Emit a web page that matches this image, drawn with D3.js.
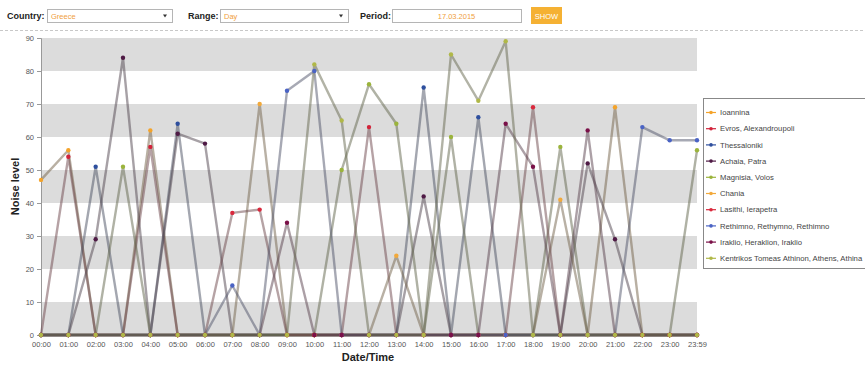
<!DOCTYPE html>
<html>
<head>
<meta charset="utf-8">
<script src="https://cdn.jsdelivr.net/npm/d3@7"></script>
<style>
  html, body { margin: 0; padding: 0; background: #fff; }
  svg { display: block; font-family: Arial, "Liberation Sans", sans-serif; }
</style>
</head>
<body>
<svg id="chart" width="865" height="367"></svg>
<script>
// Hourly time stamps of the selected day
const times = ["00:00","01:00","02:00","03:00","04:00","05:00","06:00","07:00","08:00","09:00",
  "10:00","11:00","12:00","13:00","14:00","15:00","16:00","17:00","18:00","19:00",
  "20:00","21:00","22:00","23:00","23:59"];

// Measuring stations (legend order)
const stations = ["Ioannina","Evros, Alexandroupoli","Thessaloniki","Achaia, Patra","Magnisia, Volos",
  "Chania","Lasithi, Ierapetra","Rethimno, Rethymno, Rethimno","Iraklio, Heraklion, Iraklio",
  "Kentrikos Tomeas Athinon, Athens, Athina"];

const stationColors = ["#f4a32a","#d2233a","#2e4f9e","#4f1a45","#9bb43c",
  "#f2a93b","#d9283c","#4a63c4","#7a1048","#b0b848"];

// Noise level per station, one value per time stamp
const ioannina     = [47,56,0,0,62,0,0,0,0,0,0,0,0,0,0,0,0,0,0,0,0,69,0,0,0];
const evros        = [0,54,0,0,57,0,0,0,0,0,0,0,63,0,0,0,0,0,0,0,0,0,0,0,0];
const thessaloniki = [0,0,51,0,0,64,0,0,0,0,0,0,0,0,75,0,66,0,0,0,0,0,0,0,0];
const achaia       = [0,0,29,84,0,61,58,0,0,0,0,0,0,0,42,0,0,0,0,0,52,29,0,0,0];
const magnisia     = [0,0,0,51,0,0,0,0,0,0,0,50,76,64,0,60,0,0,0,57,0,0,0,0,56];
const chania       = [0,0,0,0,0,0,0,0,70,0,0,0,0,24,0,0,0,0,0,41,0,0,0,0,0];
const lasithi      = [0,0,0,0,0,0,0,37,38,0,0,0,0,0,0,0,0,0,69,0,0,0,0,0,0];
const rethimno     = [0,0,0,0,0,0,0,15,0,74,80,0,0,0,0,0,0,0,0,0,0,0,63,59,59];
const iraklio      = [0,0,0,0,0,0,0,0,0,34,0,0,0,0,0,0,0,64,51,0,62,0,0,0,0];
const kentrikos    = [0,0,0,0,0,0,0,0,0,0,82,65,0,0,0,85,71,89,0,0,0,0,0,0,0];

const yTicks = [0,10,20,30,40,50,60,70,80,90];

const seriesValues = [ioannina, evros, thessaloniki, achaia, magnisia,
  chania, lasithi, rethimno, iraklio, kentrikos];
const series = stations.map((name, i) => ({
  name, color: stationColors[i],
  points: times.map((t, j) => ({ t, v: seriesValues[i][j] }))
}));

const svg = d3.select("#chart");
const plotLeft = 41, plotRight = 697, plotTop = 38, plotBottom = 335;

const x = d3.scalePoint().domain(times).range([plotLeft, plotRight]).padding(0);
const y = d3.scaleLinear().domain([0, 90]).range([plotBottom, plotTop]);

// ---- filter bar ----
const bar = svg.append("g");
const label = (tx, lx) => bar.append("text").attr("x", lx).attr("y", 19)
  .attr("font-size", 9).attr("font-weight", "bold").attr("fill", "#222").text(tx);
const box = (x0, x1, val, centered, arrow) => {
  bar.append("rect").attr("x", x0 + 0.5).attr("y", 9.5).attr("width", x1 - x0).attr("height", 13)
    .attr("fill", "#fff").attr("stroke", "#b5b5b5");
  bar.append("text").attr("x", centered ? (x0 + x1) / 2 : x0 + 4).attr("y", 19)
    .attr("text-anchor", centered ? "middle" : "start")
    .attr("font-size", 7.5).attr("fill", "#f0a040").text(val);
  if (arrow) bar.append("path")
    .attr("d", `M${x1 - 9},14.5 L${x1 - 5},14.5 L${x1 - 7},17.5 Z`).attr("fill", "#333");
};
label("Country:", 7);  box(47, 172, "Greece", false, true);
label("Range:", 188);  box(220, 348, "Day", false, true);
label("Period:", 360); box(392, 521, "17.03.2015", true, false);
bar.append("rect").attr("x", 531).attr("y", 7).attr("width", 31).attr("height", 17).attr("fill", "#f5b133");
bar.append("text").attr("x", 546.5).attr("y", 19).attr("text-anchor", "middle")
  .attr("font-size", 7.5).attr("fill", "#fff").text("SHOW");
svg.append("line").attr("x1", 0).attr("x2", 865).attr("y1", 30.5).attr("y2", 30.5)
  .attr("stroke", "#c8c8c8").attr("stroke-dasharray", "3,2");

// ---- alternating bands ----
svg.append("g").selectAll("rect")
  .data(yTicks.filter(v => v % 20 === 0 && v < 90))
  .join("rect")
  .attr("x", plotLeft).attr("width", plotRight - plotLeft)
  .attr("y", d => y(d + 10)).attr("height", d => y(d) - y(d + 10))
  .attr("fill", "#dcdcdc");

// ---- axes ----
const yAxis = svg.append("g").attr("transform", `translate(${plotLeft},0)`)
  .call(d3.axisLeft(y).tickValues(yTicks).tickSize(4).tickPadding(3));
yAxis.select(".domain").attr("stroke", "#999");
yAxis.selectAll(".tick line").attr("stroke", "#999");
yAxis.selectAll("text").attr("font-size", 7.5).attr("fill", "#555").attr("font-family", null);

const xAxis = svg.append("g").attr("transform", `translate(0,${plotBottom})`)
  .call(d3.axisBottom(x).tickSize(0).tickPadding(7));
xAxis.select(".domain").remove();
xAxis.selectAll("text").attr("font-size", 7.5).attr("fill", "#555").attr("font-family", null);

svg.append("text").attr("transform", `translate(19,${(plotTop + plotBottom) / 2}) rotate(-90)`)
  .attr("text-anchor", "middle").attr("font-size", 11).attr("font-weight", "bold")
  .attr("fill", "#222").text("Noise level");
svg.append("text").attr("x", 368).attr("y", 361).attr("text-anchor", "middle")
  .attr("font-size", 11).attr("font-weight", "bold").attr("fill", "#222").text("Date/Time");

// ---- series: muted translucent lines, coloured markers ----
const line = d3.line().x(d => x(d.t)).y(d => y(d.v));
svg.append("g").selectAll("path").data(series).join("path")
  .attr("d", d => line(d.points))
  .attr("fill", "none")
  .attr("stroke", d => d3.interpolateRgb(d.color, "#505050")(0.78))
  .attr("stroke-opacity", 0.5)
  .attr("stroke-width", 2.4)
  .attr("stroke-linejoin", "round");

svg.append("g").selectAll("g").data(series).join("g")
  .attr("fill", d => d.color)
  .selectAll("circle").data(d => d.points).join("circle")
  .attr("cx", d => x(d.t)).attr("cy", d => y(d.v)).attr("r", 2.2);

// ---- legend ----
const lg = svg.append("g");
lg.append("rect").attr("x", 703.5).attr("y", 98.5).attr("width", 175).attr("height", 170)
  .attr("fill", "#fff").attr("stroke", "#888");
const item = lg.selectAll("g.item").data(series).join("g").attr("class", "item")
  .attr("transform", (d, i) => `translate(0,${112.5 + i * 16.2})`);
item.append("line").attr("x1", 706).attr("x2", 716).attr("stroke", d => d.color).attr("stroke-width", 1.2);
item.append("circle").attr("cx", 711).attr("r", 1.8).attr("fill", d => d.color);
item.append("text").attr("x", 720).attr("y", 2.6).attr("font-size", 7.7).attr("fill", "#444")
  .text(d => d.name);
</script>
</body>
</html>
